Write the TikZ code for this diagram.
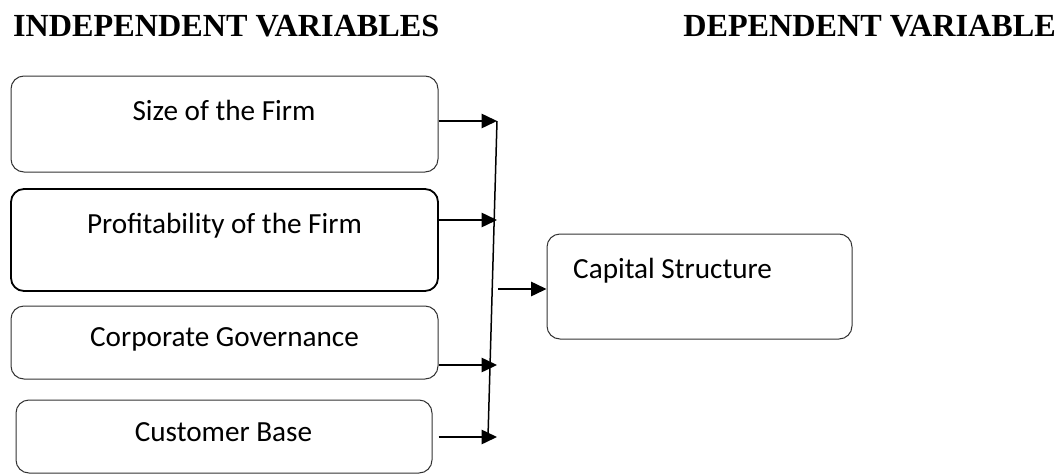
\documentclass[tikz,border=0pt]{standalone}
\usepackage{fontspec}
\setmainfont{Liberation Serif}
\newfontfamily\boxfont{Carlito}
\usetikzlibrary{arrows.meta}
\begin{document}
\begin{tikzpicture}[x=1pt,y=-1pt,
  varbox/.style={draw=black!80,line width=1pt,rounded corners=13pt,inner sep=0pt},
  boxtext/.style={font=\boxfont\fontsize{29.2}{32}\selectfont,inner sep=0pt},
  head/.style={font=\bfseries\fontsize{32.2}{34}\selectfont,inner sep=0pt},
  conn/.style={line width=1.5pt,-{Triangle[length=15.5pt,width=14.5pt]}},
  bar/.style={line width=1.5pt}
]
\useasboundingbox (0,0) rectangle (1061,474);
\node[head,anchor=base west] (hi) at (13,36) {INDEPENDENT VARIABLES};
\node[head,anchor=base east] (hd) at (1056,36) {DEPENDENT VARIABLE};

\node[varbox,minimum width=427pt,minimum height=96pt] (b1) at (224.5,124) {};
\node[varbox,draw=black,line width=1.8pt,minimum width=427pt,minimum height=102pt] (b2) at (224.5,240) {};
\node[varbox,minimum width=427pt,minimum height=73pt] (b3) at (224.5,342.5) {};
\node[varbox,minimum width=416pt,minimum height=73pt] (b4) at (224,436.5) {};
\node[varbox,minimum width=305pt,minimum height=105pt] (cs) at (699.5,286.5) {};

\node[boxtext,anchor=base] (t1) at (224,120) {Size of the Firm};
\node[boxtext,anchor=base] (t2) at (224.5,233) {Profitability of the Firm};
\node[boxtext,anchor=base] (t3) at (224.5,346) {Corporate Governance};
\node[boxtext,anchor=base] (t4) at (223.5,441) {Customer Base};
\node[boxtext,anchor=base west] (t5) at (573,278) {Capital Structure};

\coordinate (p1) at (497,121);
\coordinate (p2) at (494.8,220);
\coordinate (p3) at (490.5,365);
\coordinate (p4) at (488,437);
\coordinate (q) at (498,289);

\draw[bar] (p1) -- (p4);
\draw[conn] (b1.east |- p1) -- (p1);
\draw[conn] (b2.east |- p2) -- (p2 -| p1);
\draw[conn] (b3.east |- p3) -- (p3 -| p1);
\draw[conn] (b1.east |- p4) -- (p4 -| p1);
\draw[conn] (q) -- (cs.west |- q);
\end{tikzpicture}
\end{document}
